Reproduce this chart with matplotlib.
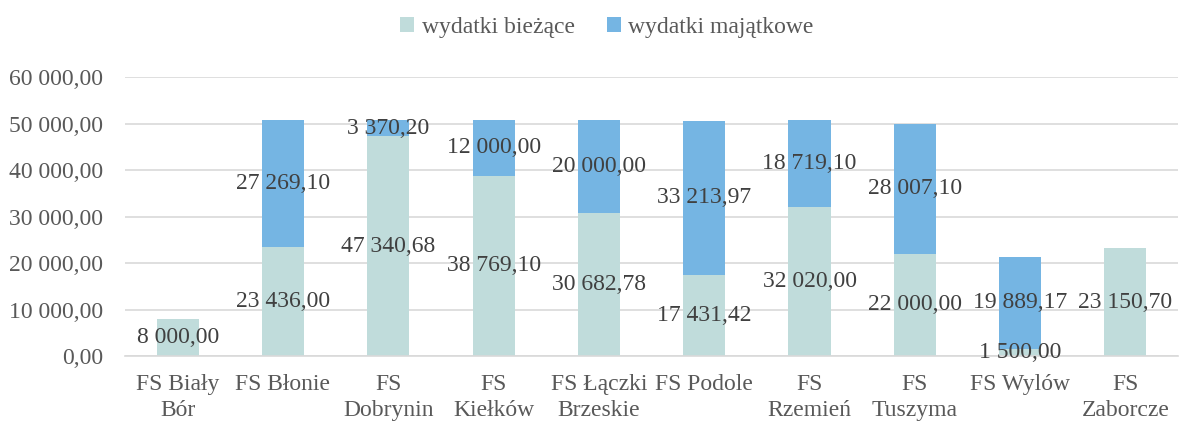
import matplotlib.pyplot as plt
import numpy as np

categories = ['FS Biały\nBór', 'FS Błonie', 'FS\nDobrynin', 'FS\nKiełków',
              'FS Łączki\nBrzeskie', 'FS Podole', 'FS\nRzemień', 'FS\nTuszyma',
              'FS Wylów', 'FS\nZaborcze']
biezace = [8000.00, 23436.00, 47340.68, 38769.10, 30682.78,
           17431.42, 32020.00, 22000.00, 1500.00, 23150.70]
majatkowe = [0, 27269.10, 3370.20, 12000.00, 20000.00,
             33213.97, 18719.10, 28007.10, 19889.17, 0]
series_names = ['wydatki bieżące', 'wydatki majątkowe']
yticks = [0, 10000, 20000, 30000, 40000, 50000, 60000]

plt.rcParams['font.family'] = ['Liberation Serif', 'DejaVu Serif']


def pl_fmt(v):
    # polish style: space thousands, comma decimals
    s = f'{v:,.2f}'
    return s.replace(',', ' ').replace('.', ',')


fig = plt.figure(figsize=(11.84, 4.21), dpi=100)
ax = fig.add_axes([0.1056, 0.154, 0.8894, 0.663])

x = np.arange(len(categories))
w = 0.4
c1, c2 = '#C0DCDB', '#75B5E3'
ax.bar(x, biezace, w, color=c1, label=series_names[0], zorder=2)
ax.bar(x, majatkowe, w, bottom=biezace, color=c2, label=series_names[1], zorder=2)

lab_color = '#404040'
for i in range(len(x)):
    if biezace[i]:
        ax.text(x[i], biezace[i] / 2, pl_fmt(biezace[i]), ha='center', va='center',
                fontsize=17, color=lab_color, zorder=3)
    if majatkowe[i]:
        ax.text(x[i], biezace[i] + majatkowe[i] / 2, pl_fmt(majatkowe[i]),
                ha='center', va='center', fontsize=17, color=lab_color, zorder=3)

ax.set_xlim(-0.5, len(x) - 0.5)
ax.set_ylim(0, 60000)
ax.set_yticks(yticks)
ax.set_yticklabels([pl_fmt(v) for v in yticks], fontsize=17, color='#595959')
ax.set_xticks(x)
ax.set_xticklabels(categories, fontsize=17, color='#595959', linespacing=1.3)
ax.tick_params(length=0)
ax.tick_params(axis='x', pad=13)
ax.tick_params(axis='y', pad=16)
ax.grid(axis='y', color='#D9D9D9', linewidth=1.2, zorder=0)
for s in ['top', 'right', 'left']:
    ax.spines[s].set_visible(False)
ax.spines['bottom'].set_color('#D9D9D9')
ax.spines['bottom'].set_linewidth(1.2)

fig.legend(loc='upper center', bbox_to_anchor=(0.5127, 1.01), ncol=2, frameon=False,
           fontsize=17, labelcolor='#595959', handlelength=0.6, handleheight=0.6,
           handletextpad=0.3, columnspacing=1.38)

fig.savefig('out.png', dpi=100)
